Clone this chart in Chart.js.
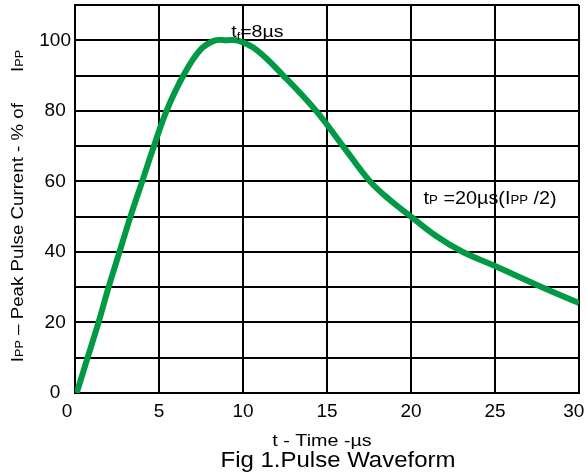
<!DOCTYPE html>
<html>
<head>
<meta charset="utf-8">
<script src="https://cdn.jsdelivr.net/npm/chart.js@4"></script>
<style>
  html, body { margin: 0; padding: 0; background: #fff; }
  #wrap { width: 587px; height: 475px; }
</style>
</head>
<body>
<div id="wrap"><canvas id="grafico" width="587" height="475"></canvas></div>
<script>
// data
var timeUs = [0.1, 0.75, 1.4, 2.0, 2.65, 3.3, 4.0, 4.7, 5.45, 6.45, 7.44, 8.3, 9.0, 9.7, 10.8, 12.4, 14.35, 15.95, 17.56, 18.75, 20, 21.5, 23, 25, 27.8, 30];
var currentPct = [0, 10, 20, 30, 40, 50, 60, 70, 80, 90, 97.2, 99.9, 100, 99.9, 97.3, 90, 80, 70, 60, 54.7, 50, 44.5, 40.2, 36, 30, 25.5];
var xTicks = [0, 5, 10, 15, 20, 25, 30];
var yTickLabels = [0, 20, 40, 60, 80, 100];

var FONT = '"Liberation Sans", Arial, sans-serif';
var green = '#009944';

// draws text made of pieces (normal + small "subscript" parts), stretched sideways a bit
function drawRich(ctx, parts, x, y, align, stretch) {
    stretch = stretch || 1;
    var total = 0;
    parts.forEach(function(p) {
        ctx.font = p.size + 'px ' + FONT;
        p.w = ctx.measureText(p.t).width;
        total += p.w;
    });
    ctx.save();
    ctx.translate(x, y);
    ctx.scale(stretch, 1);
    var cx = align === 'center' ? -total / 2 : 0;
    parts.forEach(function(p) {
        ctx.font = p.size + 'px ' + FONT;
        ctx.fillText(p.t, cx, p.dy || 0);
        cx += p.w;
    });
    ctx.restore();
}

var textos = {
    id: 'textos',
    afterDraw: function(chart) {
        var ctx = chart.ctx;
        var xs = chart.scales.x, ys = chart.scales.y;
        ctx.save();
        ctx.fillStyle = '#000';
        ctx.textBaseline = 'alphabetic';
        ctx.textAlign = 'left';

        // annotations
        drawRich(ctx, [
            {t: 't', size: 17},
            {t: 'f', size: 11, dy: 3},
            {t: '=8µs', size: 17}
        ], xs.getPixelForValue(9.3), ys.getPixelForValue(100.8), 'left', 1.15);

        drawRich(ctx, [
            {t: 't', size: 18},
            {t: 'P', size: 12},
            {t: ' =20µs(I', size: 18},
            {t: 'PP', size: 12},
            {t: ' /2)', size: 18}
        ], xs.getPixelForValue(20.75), ys.getPixelForValue(53.6), 'left', 1.1);

        // x title + caption
        drawRich(ctx, [{t: 't - Time -µs', size: 17}], 322, 446, 'center', 1.16);
        drawRich(ctx, [{t: 'Fig 1.Pulse Waveform', size: 22}], 338, 467, 'center', 1.09);

        // y title, rotated
        ctx.translate(23, 206);
        ctx.rotate(-Math.PI / 2);
        drawRich(ctx, [
            {t: 'I', size: 17},
            {t: 'PP', size: 11.5},
            {t: ' – Peak Pulse Current - % of      I', size: 17},
            {t: 'PP', size: 11.5}
        ], 0, 0, 'center', 1.1);
        ctx.restore();
    }
};

var ctx = document.getElementById('grafico').getContext('2d');
var myChart = new Chart(ctx, {
    type: 'line',
    data: {
        datasets: [{
            label: 'Ipp',
            data: timeUs.map(function(t, i) { return {x: t, y: currentPct[i]}; }),
            borderColor: green,
            borderWidth: 6,
            pointRadius: 0,
            fill: false,
            tension: 0.4
        }]
    },
    options: {
        responsive: false,
        animation: false,
        layout: { autoPadding: false, padding: { top: 5, right: 8, left: 0, bottom: 0 } },
        plugins: { legend: { display: false }, tooltip: { enabled: false } },
        scales: {
            x: {
                type: 'linear',
                min: 0, max: 30,
                afterBuildTicks: function(s) { s.ticks = xTicks.map(function(v) { return {value: v}; }); },
                afterFit: function(s) {
                    s.height = 82;
                    s.paddingLeft = 0; s.paddingRight = 0;
                },
                ticks: {
                    color: '#000', font: { size: 19, family: FONT }, padding: 7, autoSkip: false, maxRotation: 0,
                    // end labels sit a little off-centre in the original
                    callback: function(v) {
                        if (v === 0) return '0   ';
                        if (v === 30) return '30  ';
                        return v;
                    }
                },
                grid: { color: '#000', lineWidth: 2, drawTicks: false },
                border: { color: '#000', width: 2 }
            },
            y: {
                min: 0, max: 110,
                ticks: {
                    stepSize: 10,
                    autoSkip: false,
                    color: '#000',
                    font: { size: 19, family: FONT },
                    padding: 4,
                    crossAlign: 'center',
                    callback: function(v) { return yTickLabels.indexOf(v) >= 0 ? v : ''; }
                },
                afterFit: function(s) {
                    s.width = 75;
                    s.paddingTop = 0; s.paddingBottom = 0;
                },
                grid: { color: '#000', lineWidth: 2, drawTicks: false },
                border: { color: '#000', width: 2 }
            }
        }
    },
    plugins: [textos]
});
</script>
</body>
</html>
